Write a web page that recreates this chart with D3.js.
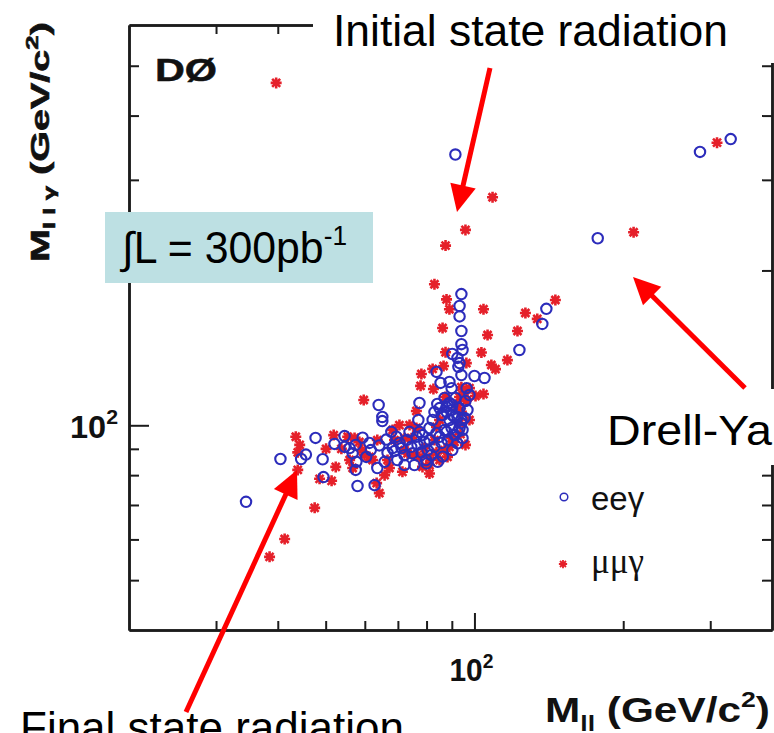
<!DOCTYPE html>
<html><head><meta charset="utf-8">
<script src="https://cdn.jsdelivr.net/npm/d3@7"></script>
<style>body{margin:0;background:#fff}svg{display:block}</style>
</head><body>
<svg id="c" width="774" height="733"></svg>
<script>
// ---------------- data ----------------
// e e gamma candidates: M_ll and M_llgamma (GeV/c^2)
const eeg_mll = [91.5,177.6,286,330,34.5,40.5,44.6,45.6,47.7,49.3,49.5,52.1,54.6,56.7,57.7,58,62.8,55.9,59.4,61.3,
  60.4,63.6,64.2,66.3,66.7,68.3,69.5,70.5,69.8,72.2,75.6,72.9,74.5,76.3,78.5,81.1,83.8,74.9,78.1,80.4,
  83,85.8,88.2,91.1,93.3,65.1,65.1,64,77.4,84.1,89,87.8,90.2,77,82.3,85.8,87.8,90.2,94.1,83,
  85,86.2,88.2,89.9,91.1,89,92.4,94.1,93.3,95.9,87,85.4,89,89.9,83.8,92.8,94.1,100,104.8,96.4,
  90.2,92.4,93.3,94.1,94.6,123.3,94.1,93.3,93.3,94.1,139.8,137.2,90.2,94.6,92.4,86.3,84.3,79.8,
  54.6,57.5,61.7,65.8,68.9,72.2,76.7,79.2,81.8,85,87,89.9,92.4,95.5,96.8,97.7,91.6,81.1,77.4,73.9,
  67.9,71.2,80,87.8,94.6,57.5];
const eeg_mllg = [336,231,340,360,71,86,86,87.7,94.5,85.9,79.3,92,90.8,88.2,84.9,76.2,76.5,90.3,94.6,92.4,
  86.8,82.6,91.4,93.8,88.4,90.3,95,92.4,85.6,83.7,83.7,93.6,90.8,95,95.7,93.6,96.6,88.2,88.6,89.5,
  90.8,92.4,93.6,95.7,98.8,103.8,101.9,109.5,110.5,110,110.5,108.5,109.5,102.4,102.4,104.7,106.2,104.7,101,106.1,
  108,104.7,109.5,107.1,103.8,102.4,103.8,102.4,108,111.5,113,120.9,121.4,118.1,127,129.9,125.2,124.7,123.6,118.1,
  137.6,135.2,132.1,143.8,140.1,140.1,152.5,162.8,170.6,179.9,168.4,157.4,89.5,94.4,92.2,86.9,84.9,85.6,
  95.3,91.6,89.5,84.9,89.1,87.5,91.6,92.8,87.5,95,97.9,98.8,97.1,103.3,107.1,114.5,113,98.8,97.1,97.1,
  97.1,90.3,84.3,97.1,97.9,81.9];
// mu mu gamma candidates
const mmg_mll = [39.7,108.8,95.9,87.4,209.9,309.6,83,87.8,89,104.3,126.8,145.8,134,122.2,86.2,106.3,103.3,116.6,108.2,110.3,
  87.4,96.3,86.6,78.1,82.3,77.8,82.6,94.1,95.5,97.7,100.5,104.3,93.3,59.7,87.4,76.3,70.5,73.9,83.8,93.3,
  93.7,91.1,43.5,44.3,43.9,43.9,50.1,51.9,55.4,57.2,53.8,59.1,52.4,48.6,51.4,56.7,62.2,63.4,64.2,47.5,
  41.3,38.5,66.7,67.3,71.5,73.2,77.4,81.1,83.8,87,89,78.5,81.1,68.3,76.3,61.3,72.2,88.2,96.3,81.1,
  58.5,63.6,68.9,74.6,79.2,85,89.9,94.1,97.7,92.4,85,65.8,59.9,55.9,75.6,83,95.9,72.2];
const mmg_mllg = [463,277.5,239.8,223.5,237.3,354.3,188,175.7,168.1,168.1,165.3,175.2,161,152.5,154.6,149.8,138.5,133.9,131,128.6,
  138.7,132.1,130.4,125.8,128.7,119.3,117.6,118.6,116.1,118.1,114,115,113.5,112,113.5,106.6,100.1,100.1,99.3,101,
  96.1,92.8,95,91.6,88.6,81.9,90,95.7,95,94.5,90,89.5,83,78.7,78,82.6,85.6,77.2,73.8,69.1,
  60.1,55.5,85.6,82.6,81.2,88.2,86.8,86.4,88.6,89.5,90.8,83,80.6,97.9,98.8,86.8,89.5,86.8,111.6,83.7,
  92.8,93.6,93.6,94.4,90.3,85.6,94.4,106.2,102.4,109.5,102.4,80,87.5,85.6,87.5,93.6,91.6,94.4];

const xDomain = [20, 400];
const yDomain = [40, 600];
const xMinorTicks = [30, 40, 50, 60, 70, 80, 90, 200, 300];
const xMajorTicks = [100];
const yMinorTicks = [50, 60, 70, 80, 90, 200, 300, 400, 500];
const yMajorTicks = [100];
const legendLabels = ["ee\u03B3", "\u03BC\u03BC\u03B3"];

// ---------------- drawing ----------------
const svg = d3.select('#c');
const L = 129, R = 772, T = 25, B = 630;
const x = d3.scaleLog().domain(xDomain).range([L, R]);
const y = d3.scaleLog().domain(yDomain).range([B, T]);
const FONT = '"Liberation Sans", Arial, Helvetica, sans-serif';
const BLUE = '#2c2cbb', RED = '#e5202a', AX = '#1c1c1c';

function drawAxis(gen, tr, vals, size) {
  const g = svg.append('g').attr('transform', tr)
    .call(gen.tickValues(vals).tickSizeInner(-size).tickSizeOuter(0).tickFormat(() => ''));
  g.select('.domain').attr('stroke', AX).attr('stroke-width', 2.5);
  g.selectAll('.tick line').attr('stroke', AX).attr('stroke-width', 2);
}
drawAxis(d3.axisBottom(x), `translate(0,${B})`, xMinorTicks, 9);
drawAxis(d3.axisBottom(x), `translate(0,${B})`, xMajorTicks, 17);
drawAxis(d3.axisTop(x), `translate(0,${T})`, xMinorTicks, 9);
drawAxis(d3.axisTop(x), `translate(0,${T})`, xMajorTicks, 17);
drawAxis(d3.axisLeft(y), `translate(${L},0)`, yMinorTicks, 10);
drawAxis(d3.axisLeft(y), `translate(${L},0)`, yMajorTicks, 20);
drawAxis(d3.axisRight(y), `translate(${R},0)`, yMinorTicks, 10);
drawAxis(d3.axisRight(y), `translate(${R},0)`, yMajorTicks, 20);

// markers
const starPath = 'M-5.5,0H5.5M0,-5.5V5.5M-4,-4L4,4M-4,4L4,-4';
const mmg = mmg_mll.map((v, i) => [v, mmg_mllg[i]]);
const eeg = eeg_mll.map((v, i) => [v, eeg_mllg[i]]);
svg.append('g').selectAll('path').data(mmg).join('path')
  .attr('transform', d => `translate(${x(d[0])},${y(d[1])})`)
  .attr('d', starPath).attr('fill', 'none').attr('stroke', RED).attr('stroke-width', 2.6);
svg.append('g').selectAll('circle').data(eeg).join('circle')
  .attr('cx', d => x(d[0])).attr('cy', d => y(d[1])).attr('r', 5.2)
  .attr('fill', 'none').attr('stroke', BLUE).attr('stroke-width', 2.1);

// white backgrounds of the callout texts
svg.append('rect').attr('x', 313).attr('y', 0).attr('width', 461).attr('height', 63).attr('fill', '#fff');
svg.append('rect').attr('x', 598).attr('y', 389).attr('width', 176).attr('height', 76).attr('fill', '#fff');

// helper: stretch text along its direction to a target width
function fit(t, x0, y0, target, rot, nChars) {
  const w = nChars ? t.node().getSubStringLength(0, nChars) : t.node().getBBox().width;
  const s = target / w;
  t.attr('transform', rot ? `translate(${x0},${y0}) rotate(-90) scale(${s},1)` : `translate(${x0},${y0}) scale(${s},1)`);
}

// tick labels 10^2
const xl = svg.append('text').attr('font-family', FONT).attr('font-weight', 'bold').attr('font-size', 31).attr('fill', '#111');
xl.append('tspan').text('10');
xl.append('tspan').attr('font-size', 20).attr('dy', -13).text('2');
fit(xl, x(xMajorTicks[0]) - 25, 681, 44);
const yl = svg.append('text').attr('font-family', FONT).attr('font-weight', 'bold').attr('font-size', 32).attr('fill', '#111');
yl.append('tspan').text('10');
yl.append('tspan').attr('font-size', 21).attr('dy', -14).text('2');
fit(yl, 70, y(yMajorTicks[0]) + 13, 48);

// axis titles
const yt = svg.append('text').attr('font-family', FONT).attr('font-weight', 'bold').attr('font-size', 26)
  .attr('fill', '#111').attr('stroke', '#111').attr('stroke-width', 0.6);
yt.append('tspan').text('M');
yt.append('tspan').attr('font-size', 17).attr('dy', 6).text('l l \u03B3');
yt.append('tspan').attr('dy', -6).text(' (GeV/c');
yt.append('tspan').attr('font-size', 17).attr('dy', -11).text('2');
yt.append('tspan').attr('dy', 11).text(')');
fit(yt, 49, 262, 240, true);

const xt = svg.append('text').attr('font-family', FONT).attr('font-weight', 'bold').attr('font-size', 35).attr('fill', '#111');
xt.append('tspan').text('M');
xt.append('tspan').attr('font-size', 22).attr('dy', 9).text('ll');
xt.append('tspan').attr('dy', -9).text(' (GeV/c');
xt.append('tspan').attr('font-size', 22).attr('dy', -15).text('2');
xt.append('tspan').attr('dy', 15).text(')');
fit(xt, 545, 722, 225);

// DØ
const d0 = svg.append('text').attr('font-family', FONT).attr('font-weight', 'bold').attr('font-size', 31)
  .attr('fill', '#111').attr('stroke', '#111').attr('stroke-width', 0.5).text('D\u00D8');
fit(d0, 155, 81, 62);

// luminosity box
svg.append('rect').attr('x', 105).attr('y', 212).attr('width', 268).attr('height', 71).attr('fill', '#bde0e3');
const lum = svg.append('text').attr('font-family', FONT).attr('font-size', 44).attr('fill', '#000');
lum.append('tspan').text('\u222BL = 300pb');
lum.append('tspan').attr('font-size', 27).attr('dy', -18).text('-1');
fit(lum, 122, 263, 228);

// legend
svg.append('circle').attr('cx', 564).attr('cy', 497).attr('r', 3.8).attr('fill', 'none').attr('stroke', BLUE).attr('stroke-width', 1.5);
svg.append('path').attr('transform', 'translate(563,564) scale(0.75)').attr('d', starPath).attr('fill', 'none').attr('stroke', RED).attr('stroke-width', 2.4);
svg.append('text').attr('x', 591).attr('y', 510).attr('font-family', FONT).attr('font-size', 33).attr('fill', '#111').text(legendLabels[0]);
svg.append('text').attr('x', 591).attr('y', 573).attr('font-family', '"Liberation Serif", "Times New Roman", serif').attr('font-size', 35).attr('fill', '#111').text(legendLabels[1]);

// callouts
const it = svg.append('text').attr('font-family', FONT).attr('font-size', 44).attr('fill', '#000').text('Initial state radiation');
fit(it, 333, 46, 395);
const dy = svg.append('text').attr('font-family', FONT).attr('font-size', 43).attr('fill', '#000').text('Drell-Yan');
fit(dy, 607, 445, 165, false, 8);
svg.append('text').attr('x', 20).attr('y', 743).attr('font-family', FONT).attr('font-size', 44).attr('fill', '#000').text('Final state radiation');

function arrow(x1, y1, x2, y2) {
  const dx = x2 - x1, dy = y2 - y1, len = Math.hypot(dx, dy);
  const ux = dx / len, uy = dy / len, hl = 27, hw = 13;
  const bx = x2 - ux * hl, by = y2 - uy * hl;
  svg.append('line').attr('x1', x1).attr('y1', y1).attr('x2', bx + ux * 2).attr('y2', by + uy * 2)
    .attr('stroke', '#ff0000').attr('stroke-width', 5);
  svg.append('path').attr('d', `M${x2},${y2}L${bx - uy * hw},${by + ux * hw}L${bx + uy * hw},${by - ux * hw}Z`).attr('fill', '#ff0000');
}
arrow(490, 68, 457, 212);
arrow(745, 388, 633, 277);
arrow(186, 712, 297, 470);
</script>
</body></html>
